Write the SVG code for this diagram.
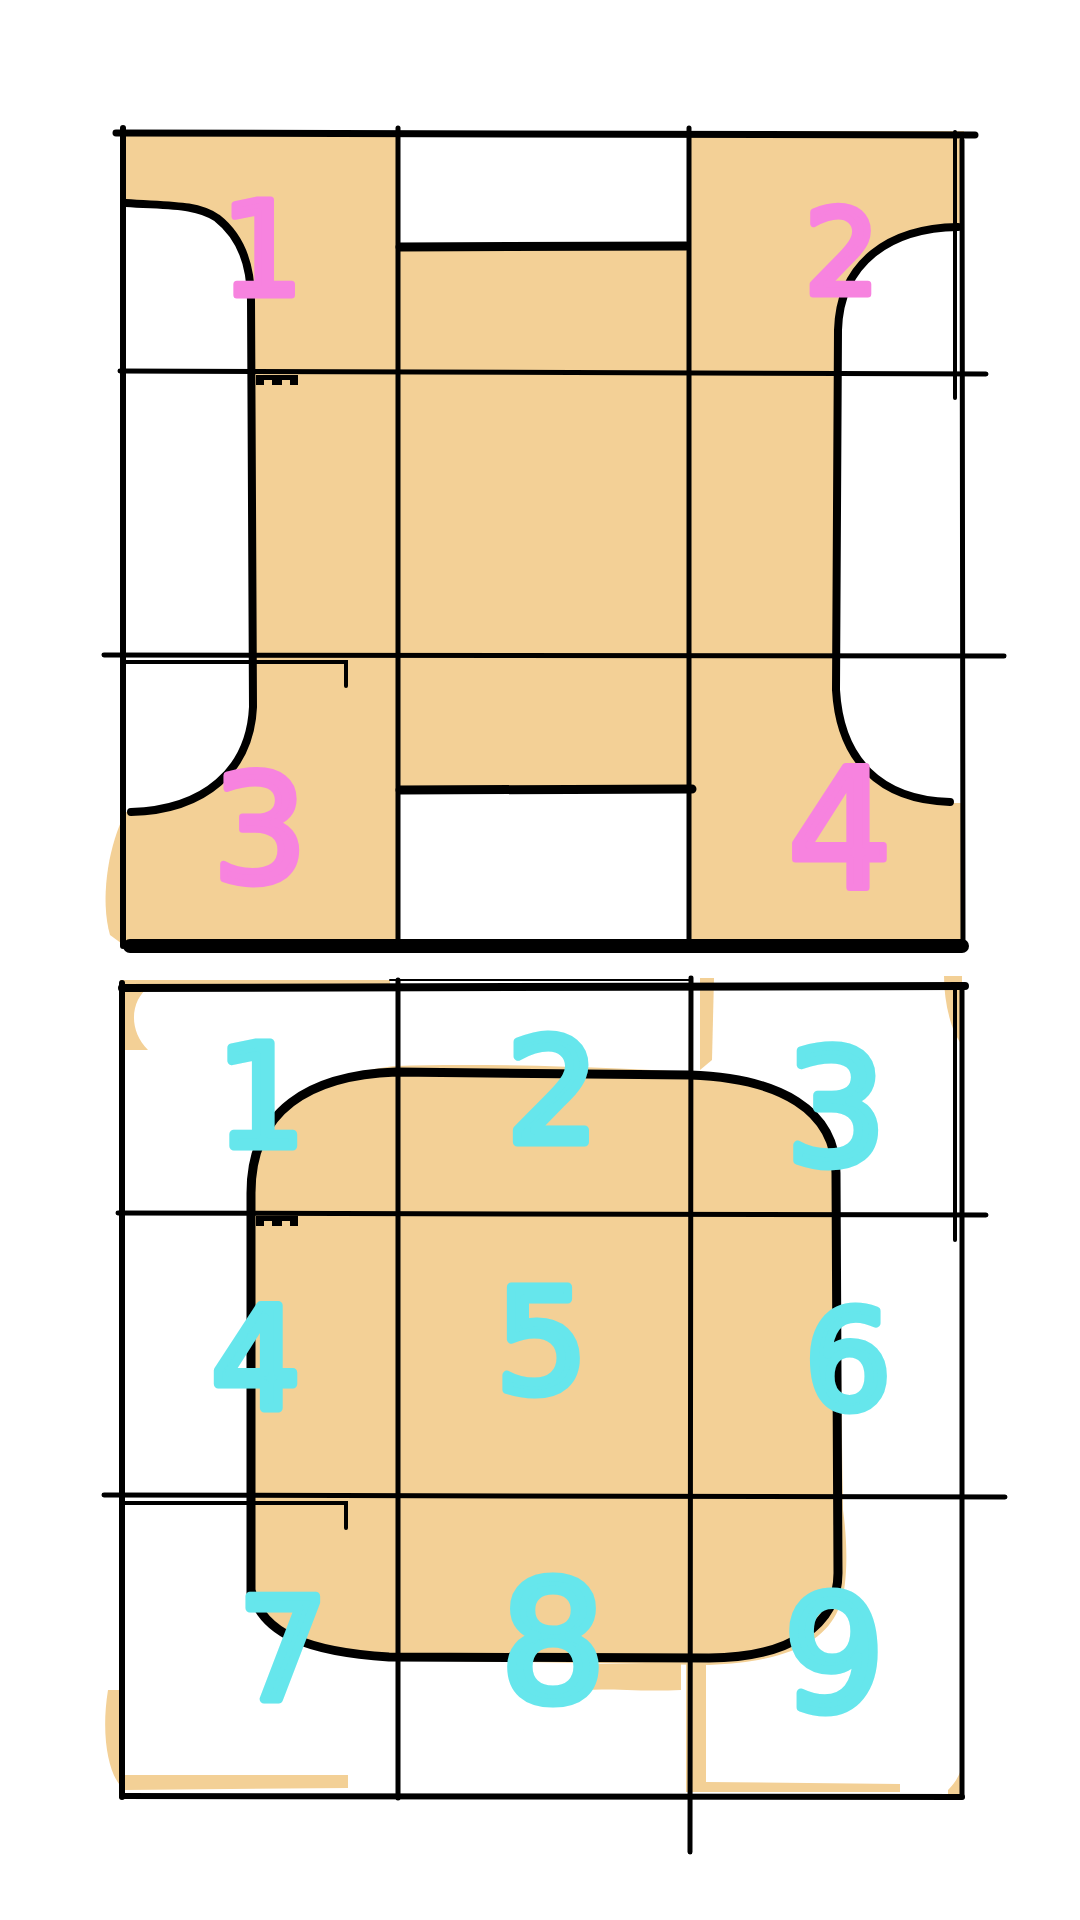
<svg xmlns="http://www.w3.org/2000/svg" width="1080" height="1920" viewBox="0 0 1080 1920">
<style>
.ln{fill:none;stroke:#000;stroke-width:5;stroke-linecap:round}
.ol{fill:none;stroke:#000;stroke-width:9;stroke-linecap:round;stroke-linejoin:round}
.thick{fill:none;stroke:#000;stroke-width:12;stroke-linecap:round}
.fill{fill:#F3D096}
.er{fill:#FFFFFF}
.pk{fill:#F783DF;stroke:#F783DF;stroke-width:7;stroke-linejoin:round;font-family:"DejaVu Sans",sans-serif;text-anchor:middle}
.cy{fill:#66E6EC;stroke:#66E6EC;stroke-width:9;stroke-linejoin:round;font-family:"DejaVu Sans",sans-serif;text-anchor:middle}
</style>
<rect width="1080" height="1920" fill="#FFFFFF"/>

<!-- TOP PANEL -->
<g id="top-panel">
  <g id="top-fill">
    <rect class="fill" x="122" y="131" width="842" height="815"/>
    <path class="fill" d="M122,820 C108,850 100,900 110,935 L125,946 Z"/>
    <rect class="er" x="400" y="134" width="287" height="112"/>
    <rect class="er" x="400" y="792" width="287" height="152"/>
    <path class="er" d="M126,203 C170,206 196,204 217,218 C240,236 251,265 251,300 L253,707 C250,770 205,810 126,812 Z"/>
    <path class="er" d="M961,227 C890,228 840,262 838,330 L836,690 C840,760 880,800 946,803 L961,803 Z"/>
  </g>
  <g id="top-grid">
    <line class="ln" x1="116" y1="133" x2="975" y2="135" style="stroke-width:7"/>
    <line class="ln" x1="123" y1="128" x2="123" y2="946" style="stroke-width:6"/>
    <line class="ln" x1="962" y1="140" x2="963" y2="946" style="stroke-width:5"/>
    <line class="ln" x1="955" y1="132" x2="955" y2="398" style="stroke-width:4"/>
    <line class="ln" x1="398" y1="128" x2="398" y2="946"/>
    <line class="ln" x1="689" y1="128" x2="689" y2="946"/>
    <line class="ln" x1="120" y1="371" x2="986" y2="374"/>
    <line class="ln" x1="104" y1="655" x2="1004" y2="656"/>
    <polyline class="ln" points="123,662 346,662 346,686" style="stroke-width:4"/>
    <line class="thick" x1="130" y1="946" x2="962" y2="946" style="stroke-width:14"/>
    <line class="ol" x1="400" y1="247" x2="686" y2="246"/>
    <line class="ol" x1="400" y1="790" x2="692" y2="789"/>
    <path class="ol" d="M126,203 C170,206 196,204 217,218 C240,236 251,265 251,300 L253,707 C250,770 205,810 131,812" style="stroke-width:8"/>
    <path class="ol" d="M958,227 C890,228 840,262 838,330 L836,690 C840,760 880,800 950,802" style="stroke-width:8"/>
    <path d="M256,375 h42 v10 h-8 v-5 h-8 v5 h-10 v-5 h-8 v5 h-8 Z" fill="#000"/>
  </g>
  <g id="top-labels">
    <text class="pk" x="262" y="295" font-size="130">1</text>
    <text class="pk" x="842" y="294" font-size="118">2</text>
    <text class="pk" x="260" y="882" font-size="150">3</text>
    <text class="pk" x="840" y="888" font-size="165">4</text>
  </g>
</g>

<!-- BOTTOM PANEL -->
<g id="bottom-panel">
  <g id="bottom-fill">
    <path class="fill" d="M120,980 L390,980 L390,986 L150,986 C130,1000 128,1030 148,1050 L120,1050 Z"/>
    <path class="fill" d="M700,978 L714,978 L712,1060 L700,1070 Z"/>
    <path class="fill" d="M944,976 L962,976 L962,1045 C950,1030 944,1000 944,976 Z"/>
    <path class="fill" d="M251,1600 L251,1193 C251,1110 310,1075 396,1066 C500,1062 650,1070 690,1072 C780,1075 836,1110 838,1173 L843,1510 C850,1560 845,1600 838,1610 C825,1640 790,1662 709,1665 L389,1660 C310,1655 262,1635 251,1590 Z"/>
    <path class="fill" d="M585,1664 L681,1664 L681,1690 C640,1692 610,1688 585,1690 Z"/>
    <path class="fill" d="M108,1690 L125,1690 L125,1775 L348,1775 L348,1788 L125,1790 C110,1780 100,1740 108,1690 Z"/>
    <path class="fill" d="M686,1660 L706,1660 L706,1792 L686,1792 Z"/>
    <path class="fill" d="M706,1782 L900,1784 L900,1792 L706,1792 Z"/>
    <path class="fill" d="M948,1790 C958,1780 962,1770 963,1760 L963,1797 L948,1797 Z"/>
  </g>
  <g id="bottom-grid">
    <line class="ln" x1="122" y1="988" x2="965" y2="986" style="stroke-width:8"/>
    <line class="ln" x1="390" y1="980" x2="690" y2="980" style="stroke-width:2"/>
    <line class="ln" x1="122" y1="983" x2="122" y2="1797" style="stroke-width:6"/>
    <line class="ln" x1="962" y1="988" x2="962" y2="1797" style="stroke-width:5"/>
    <line class="ln" x1="955" y1="990" x2="955" y2="1240" style="stroke-width:4"/>
    <line class="ln" x1="398" y1="980" x2="398" y2="1798"/>
    <line class="ln" x1="691" y1="978" x2="690" y2="1852"/>
    <line class="ln" x1="118" y1="1213" x2="986" y2="1215"/>
    <line class="ln" x1="104" y1="1495" x2="1005" y2="1497"/>
    <polyline class="ln" points="123,1503 346,1503 346,1528" style="stroke-width:4"/>
    <line class="ln" x1="122" y1="1796" x2="962" y2="1797" style="stroke-width:6"/>
    <path class="ol" d="M251,1600 L251,1193 C251,1110 310,1075 396,1072 L690,1075 C780,1078 836,1110 836,1173 L838,1573 C838,1625 790,1658 709,1658 L389,1657 C310,1652 262,1635 251,1590"/>
    <path d="M256,1216 h42 v10 h-8 v-5 h-8 v5 h-10 v-5 h-8 v5 h-8 Z" fill="#000"/>
  </g>
  <g id="bottom-labels">
    <text class="cy" x="261" y="1146" font-size="140">1</text>
    <text class="cy" x="553" y="1142" font-size="145">2</text>
    <text class="cy" x="836" y="1164" font-size="158">3</text>
    <text class="cy" x="256" y="1408" font-size="140">4</text>
    <text class="cy" x="542" y="1392" font-size="145">5</text>
    <text class="cy" x="848" y="1408" font-size="135">6</text>
    <text class="cy" x="283" y="1699" font-size="140">7</text>
    <text class="cy" x="553" y="1701" font-size="165">8</text>
    <text class="cy" x="834" y="1710" font-size="158">9</text>
  </g>
</g>
</svg>
